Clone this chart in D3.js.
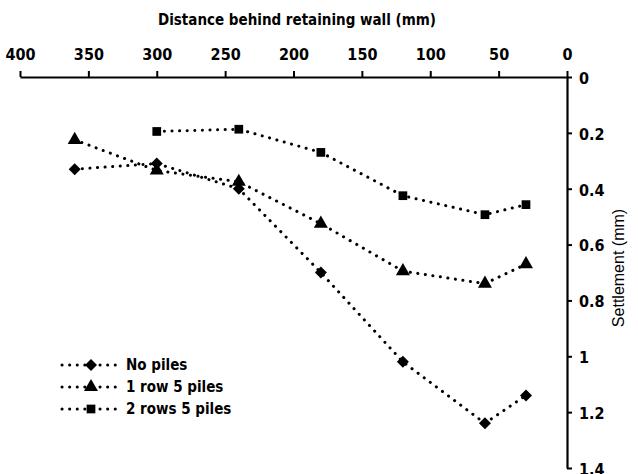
<!DOCTYPE html>
<html><head><meta charset="utf-8">
<script src="https://cdn.jsdelivr.net/npm/d3@7"></script>
<style>body{margin:0;background:#fff}svg{display:block}</style>
</head><body>
<script>
const distances = [360, 300, 240, 180, 120, 60, 30];
const noPiles   = [0.33, 0.31, 0.40, 0.70, 1.02, 1.24, 1.14];
const oneRow    = [0.225, 0.335, 0.375, 0.525, 0.695, 0.74, 0.67];
const distances2 = [300, 240, 180, 120, 60, 30];
const twoRows   = [0.195, 0.187, 0.27, 0.425, 0.493, 0.457];
const xTicks = [400, 350, 300, 250, 200, 150, 100, 50, 0];
const yTicks = [0, 0.2, 0.4, 0.6, 0.8, 1, 1.2, 1.4];
const seriesNames = ["No piles", "1 row 5 piles", "2 rows 5 piles"];

const W = 638, H = 474;
const svg = d3.select("body").append("svg").attr("width", W).attr("height", H);
const x = d3.scaleLinear().domain([400, 0]).range([20, 567]);
const y = d3.scaleLinear().domain([0, 1.4]).range([77, 468]);
const tickFont = "'DejaVu Sans Condensed','DejaVu Sans',sans-serif";
function styleText(sel, size) {
  sel.style("font-family", tickFont).style("font-weight", "bold")
     .style("font-stretch", "condensed").style("font-size", size + "px").attr("fill", "#000");
}

const xAxis = svg.append("g").attr("transform", `translate(0,${y(0)})`)
  .call(d3.axisTop(x).tickValues(xTicks).tickSize(6).tickSizeOuter(0).tickFormat(d3.format("d")));
xAxis.select(".domain").attr("stroke", "#000").attr("stroke-width", 2.2);
xAxis.selectAll(".tick line").attr("stroke-width", 2);
styleText(xAxis.selectAll(".tick text").attr("y", -17), 16);

const yAxis = svg.append("g").attr("transform", `translate(${x(0)},0)`)
  .call(d3.axisRight(y).tickValues(yTicks).tickSize(5).tickSizeOuter(0).tickFormat(d => d3.format("")(d)));
yAxis.select(".domain").attr("stroke", "#000").attr("stroke-width", 2.2);
yAxis.selectAll(".tick line").attr("stroke-width", 2);
styleText(yAxis.selectAll(".tick text").attr("x", 12).attr("dy", "0.4em"), 16);

styleText(svg.append("text").attr("x", 297).attr("y", 25).attr("text-anchor", "middle")
  .text("Distance behind retaining wall (mm)"), 15);
svg.append("text").attr("transform", `translate(624,268) rotate(-90)`).attr("text-anchor", "middle")
  .style("font-family", "'Liberation Sans',Arial,sans-serif").style("font-size", "16px")
  .text("Settlement  (mm)");

const line = d3.line().x(d => x(d[0])).y(d => y(d[1]));
const series = [
  {pts: distances.map((d, i) => [d, noPiles[i]]), sym: d3.symbolSquare, size: 72, rot: 45},
  {pts: distances.map((d, i) => [d, oneRow[i]]), sym: d3.symbolTriangle, size: 85, rot: 0},
  {pts: distances2.map((d, i) => [d, twoRows[i]]), sym: d3.symbolSquare, size: 76, rot: 0}
];
series.forEach(s => {
  svg.append("path").attr("d", line(s.pts)).attr("fill", "none").attr("stroke", "#000")
    .attr("stroke-width", 3).attr("stroke-dasharray", "0.1,7.5").attr("stroke-linecap", "round");
  svg.selectAll(null).data(s.pts).enter().append("path")
    .attr("transform", d => `translate(${x(d[0])},${y(d[1])}) rotate(${s.rot})`)
    .attr("d", d3.symbol().type(s.sym).size(s.size)).attr("fill", "#000");
});

const leg = svg.append("g");
series.forEach((s, i) => {
  const ly = 365 + i * 22;
  leg.append("line").attr("x1", 62).attr("x2", 121).attr("y1", ly).attr("y2", ly)
    .attr("stroke", "#000").attr("stroke-width", 3).attr("stroke-dasharray", "0.1,7.5").attr("stroke-linecap", "round");
  leg.append("path").attr("transform", `translate(91,${ly}) rotate(${s.rot})`)
    .attr("d", d3.symbol().type(s.sym).size(s.size)).attr("fill", "#000");
  styleText(leg.append("text").attr("x", 126).attr("y", ly).attr("dy", "0.36em")
    .text(seriesNames[i]), 15);
});
</script>
</body></html>
